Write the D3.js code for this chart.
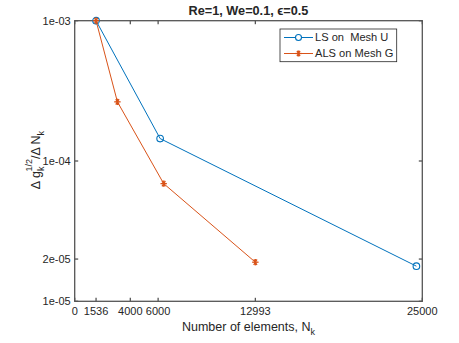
<!DOCTYPE html>
<html>
<head>
<meta charset="utf-8">
<script src="https://cdn.jsdelivr.net/npm/d3@7"></script>
<style>
  body { margin: 0; background: #fff; }
  text { font-family: "Liberation Sans", Arial, sans-serif; fill: #262626; }
</style>
</head>
<body>
<svg id="chart" width="459" height="343"></svg>
<script>
const lsX = [1536, 6144, 24576];
const lsY = [1e-3, 1.445e-4, 1.78e-5];
const alsX = [1536, 3072, 6400, 12993];
const alsY = [1e-3, 2.64e-4, 6.9e-5, 1.9e-5];
const xTicks = [0, 1536, 4000, 6000, 12993, 25000];
const yTicks = [1e-3, 1e-4, 2e-5, 1e-5];
const yTickLabels = ["1e-03", "1e-04", "2e-05", "1e-05"];
const seriesNames = ["LS on  Mesh U", "ALS on Mesh G"];

const margin = { top: 20.7, right: 36.7, bottom: 41.7, left: 74.7 };
const width = 459 - margin.left - margin.right;
const height = 343 - margin.top - margin.bottom;
const axisColor = "#555";
const blue = "#0072BD", orange = "#D95319";

const svg = d3.select("#chart")
  .append("g")
  .attr("transform", `translate(${margin.left},${margin.top})`);

const x = d3.scaleLinear().domain([0, 25000]).range([0, width]);
const y = d3.scaleLog().domain([1e-5, 1e-3]).range([height, 0]);

// box
svg.append("rect")
  .attr("width", width).attr("height", height)
  .attr("fill", "none").attr("stroke", axisColor).attr("stroke-width", 1.3);

// ticks point inward on all four sides
const tl = 3.5;
xTicks.forEach(t => {
  svg.append("line").attr("x1", x(t)).attr("x2", x(t)).attr("y1", height).attr("y2", height - tl)
    .attr("stroke", axisColor).attr("stroke-width", 1.3);
  svg.append("line").attr("x1", x(t)).attr("x2", x(t)).attr("y1", 0).attr("y2", tl)
    .attr("stroke", axisColor).attr("stroke-width", 1.3);
  svg.append("text").attr("x", x(t)).attr("y", height + 14)
    .attr("text-anchor", "middle").attr("font-size", 11).text(t);
});

yTicks.forEach((t, i) => {
  svg.append("line").attr("x1", 0).attr("x2", tl).attr("y1", y(t)).attr("y2", y(t))
    .attr("stroke", axisColor).attr("stroke-width", 1.3);
  svg.append("line").attr("x1", width).attr("x2", width - tl).attr("y1", y(t)).attr("y2", y(t))
    .attr("stroke", axisColor).attr("stroke-width", 1.3);
  svg.append("text").attr("x", -4).attr("y", y(t)).attr("dy", "0.35em")
    .attr("text-anchor", "end").attr("font-size", 11).text(yTickLabels[i]);
});

// title
svg.append("text").attr("x", width / 2).attr("y", -6)
  .attr("text-anchor", "middle").attr("font-size", 12.7).attr("font-weight", "bold")
  .text("Re=1, We=0.1, \u03F5=0.5");

// x label
const xl = svg.append("text").attr("x", width / 2).attr("y", height + 30)
  .attr("text-anchor", "middle").attr("font-size", 12.5);
xl.append("tspan").text("Number of elements, N");
xl.append("tspan").attr("dy", 4).attr("font-size", 9).text("k");

// y label
const yl = svg.append("text")
  .attr("transform", `translate(${-35},${height / 2 - 1}) rotate(-90)`)
  .attr("text-anchor", "middle").attr("font-size", 12.5);
yl.append("tspan").text("\u0394 g");
yl.append("tspan").attr("dy", 4).attr("font-size", 9).text("k");
yl.append("tspan").attr("dy", -12).attr("font-size", 9).attr("dx", -5).text("1/2");
yl.append("tspan").attr("dy", 8).text("/\u0394 N");
yl.append("tspan").attr("dy", 4).attr("font-size", 9).text("k");

const line = d3.line().x(d => x(d[0])).y(d => y(d[1]));
const ls = lsX.map((v, i) => [v, lsY[i]]);
const als = alsX.map((v, i) => [v, alsY[i]]);

function star(g, cx, cy, r, color) {
  [0, 60, 120].forEach(a => {
    const rad = a * Math.PI / 180;
    g.append("line")
      .attr("x1", cx - r * Math.cos(rad)).attr("y1", cy - r * Math.sin(rad))
      .attr("x2", cx + r * Math.cos(rad)).attr("y2", cy + r * Math.sin(rad))
      .attr("stroke", color).attr("stroke-width", 1.3);
  });
  g.append("line").attr("x1", cx).attr("x2", cx).attr("y1", cy - r).attr("y2", cy + r)
    .attr("stroke", color).attr("stroke-width", 1.3);
}

svg.append("path").datum(ls).attr("d", line)
  .attr("fill", "none").attr("stroke", blue).attr("stroke-width", 1);
svg.selectAll(".ls").data(ls).enter().append("circle")
  .attr("cx", d => x(d[0])).attr("cy", d => y(d[1])).attr("r", 3.3)
  .attr("fill", "none").attr("stroke", blue).attr("stroke-width", 1.1);

svg.append("path").datum(als).attr("d", line)
  .attr("fill", "none").attr("stroke", orange).attr("stroke-width", 1);
als.forEach(d => star(svg, x(d[0]), y(d[1]), 3.2, orange));

// legend
const lg = svg.append("g").attr("transform", `translate(${280 - margin.left},${29 - margin.top})`);
lg.append("rect").attr("width", 116.7).attr("height", 32.7)
  .attr("fill", "#fff").attr("stroke", "#262626").attr("stroke-width", 0.8);
[[blue, "c"], [orange, "s"]].forEach((s, i) => {
  const yy = 8.5 + i * 16;
  lg.append("line").attr("x1", 4).attr("x2", 33).attr("y1", yy).attr("y2", yy)
    .attr("stroke", s[0]).attr("stroke-width", 1);
  if (s[1] === "c") {
    lg.append("circle").attr("cx", 18.5).attr("cy", yy).attr("r", 3)
      .attr("fill", "#fff").attr("stroke", s[0]).attr("stroke-width", 1.1);
  } else {
    star(lg, 18.5, yy, 3, s[0]);
  }
  lg.append("text").attr("x", 35).attr("y", yy).attr("dy", "0.35em")
    .attr("font-size", 11.1).style("white-space", "pre")
    .text(seriesNames[i]);
});
</script>
</body>
</html>
